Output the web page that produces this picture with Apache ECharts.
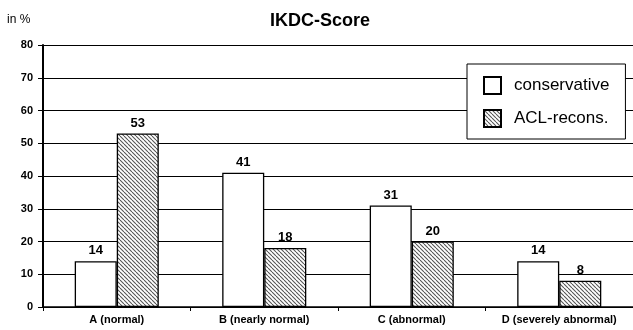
<!DOCTYPE html>
<html><head><meta charset="utf-8">
<script src="https://cdn.jsdelivr.net/npm/echarts@6/dist/echarts.min.js"></script>
<style>html,body{margin:0;padding:0;background:#fff}#c{width:633px;height:330px}</style>
</head><body><div id="c"></div>
<script>
var categories = ['A (normal)', 'B (nearly normal)', 'C (abnormal)', 'D (severely abnormal)'];
var conservative = [14, 41, 31, 14];
var aclRecons = [53, 18, 20, 8];
var yTicks = [0, 10, 20, 30, 40, 50, 60, 70, 80];

function hatch() {
  var c = document.createElement('canvas');
  c.width = 4; c.height = 4;
  var g = c.getContext('2d');
  g.fillStyle = '#fff'; g.fillRect(0, 0, 4, 4);
  g.strokeStyle = '#555'; g.lineWidth = 1.1;
  for (var k = -8; k <= 8; k += 4) {
    g.beginPath(); g.moveTo(k, 0); g.lineTo(k + 4, 4); g.stroke();
  }
  return c;
}
var pat = { image: hatch(), repeat: 'repeat' };

var chart = echarts.init(document.getElementById('c'));
chart.setOption({
  animation: false,
  title: { text: 'IKDC-Score', left: 315, top: 7, textAlign: 'center',
    textStyle: { fontFamily: 'Liberation Sans', fontSize: 18, fontWeight: 'bold', color: '#000' } },
  graphic: [{ type: 'text', left: 7, top: 14, style: { text: 'in %', font: '12px Liberation Sans', fill: '#000' } }],
  legend: {
    orient: 'vertical', left: 467, top: 64,
    padding: [12, 16, 11, 16], itemGap: 14,
    borderColor: '#000', borderWidth: 1, backgroundColor: '#fff',
    itemWidth: 17, itemHeight: 17, icon: 'rect',
    textStyle: { fontFamily: 'Liberation Sans', fontSize: 17, color: '#000', padding: [0, 0, 0, 8] },
    data: ['conservative', 'ACL-recons.']
  },
  grid: { left: 43, right: -2, top: 45, bottom: 23, containLabel: false },
  xAxis: {
    type: 'category', data: categories,
    axisLine: { lineStyle: { color: '#000', width: 1.5 } },
    axisTick: { show: true, interval: 0, length: 4, lineStyle: { color: '#000' } },
    axisLabel: { interval: 0, fontFamily: 'Liberation Sans', fontSize: 11, fontWeight: 'bold', color: '#000', margin: 7 }
  },
  yAxis: {
    type: 'value', min: yTicks[0], max: yTicks[yTicks.length - 1], interval: 10,
    axisLine: { show: true, lineStyle: { color: '#000', width: 2 } },
    axisTick: { show: true, length: 5, lineStyle: { color: '#000' } },
    splitLine: { lineStyle: { color: '#000', width: 1 } },
    axisLabel: { fontFamily: 'Liberation Sans', fontSize: 11, fontWeight: 'bold', color: '#000', margin: 10 }
  },
  series: [
    { name: 'conservative', type: 'bar', data: conservative, barGap: '0%', barCategoryGap: '43%',
      itemStyle: { color: '#fff', borderColor: '#000', borderWidth: 1.3 },
      label: { show: true, position: 'top', distance: 4, fontFamily: 'Liberation Sans', fontSize: 13, fontWeight: 'bold', color: '#000' } },
    { name: 'ACL-recons.', type: 'bar', data: aclRecons,
      itemStyle: { color: pat, borderColor: '#000', borderWidth: 1.3 },
      label: { show: true, position: 'top', distance: 4, fontFamily: 'Liberation Sans', fontSize: 13, fontWeight: 'bold', color: '#000' } }
  ]
});
</script></body></html>
